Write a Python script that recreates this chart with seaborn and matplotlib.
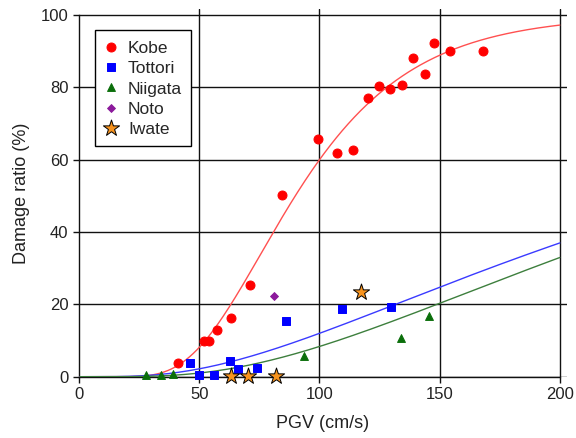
import math
import numpy as np
import pandas as pd
import matplotlib
matplotlib.use("Agg")
import matplotlib.pyplot as plt
import seaborn as sns

# ---- data ----
kobe_pgv = [41, 51.8, 54.2, 57.4, 63.2, 71.1, 84.4, 99.3, 107.2, 113.9, 120.3, 124.7,
            129.3, 134.3, 138.9, 143.8, 147.8, 154.4, 167.9]
kobe_dr = [3.8, 10, 10, 12.8, 16.2, 25.2, 50.3, 65.7, 61.7, 62.7, 77.1, 80.2,
           79.6, 80.6, 88.1, 83.7, 92.2, 90.1, 90.1]
tottori_pgv = [46, 50, 56.3, 63, 66, 74, 86.1, 109.3, 129.6]
tottori_dr = [3.8, 0.5, 0.5, 4.4, 2.2, 2.4, 15.3, 18.8, 19.2]
niigata_pgv = [27.8, 34.3, 38.9, 93.8, 133.8, 145.4]
niigata_dr = [0.5, 0.5, 0.7, 5.6, 10.6, 16.7]
noto_pgv = [81]
noto_dr = [22.4]
iwate_pgv = [63.2, 70.1, 82, 117.1]
iwate_dr = [0.1, 0.1, 0.3, 23.3]

# fitted lognormal fragility curves: (median PGV, log-std)
curve_names = ["Kobe", "Tottori", "Niigata"]
curve_median = [90.0, 263.0, 277.0]
curve_beta = [0.42, 0.822, 0.737]

x_ticks = [0, 50, 100, 150, 200]
y_ticks = [0, 20, 40, 60, 80, 100]

sns.set_style("white")
plt.rcParams['font.family'] = ['Liberation Sans', 'DejaVu Sans']

fig = plt.figure(figsize=(5.76, 4.38), dpi=100)
ax = fig.add_axes([79 / 576, 1 - 376.7 / 438, 488 / 576, 367.4 / 438])

# curves
xs = np.linspace(0.5, 200, 400)
curve_colors = ["#ff5050", "#3a3aff", "#3d7f3d"]
rows = []
for name, med, beta in zip(curve_names, curve_median, curve_beta):
    for xv in xs:
        z = (math.log(xv) - math.log(med)) / beta
        rows.append((name, xv, 100 * 0.5 * (1 + math.erf(z / math.sqrt(2)))))
curves = pd.DataFrame(rows, columns=["event", "pgv", "dr"])
for name, col in zip(curve_names, curve_colors):
    sns.lineplot(data=curves[curves.event == name], x="pgv", y="dr", ax=ax,
                 color=col, lw=1.0, zorder=3)

series = [
    ("Kobe", kobe_pgv, kobe_dr, "o", "#ff0000", 42, "#ff0000"),
    ("Tottori", tottori_pgv, tottori_dr, "s", "#0000ff", 30, "#0000ff"),
    ("Niigata", niigata_pgv, niigata_dr, "^", "#0a6e0a", 32, "#0a6e0a"),
    ("Noto", noto_pgv, noto_dr, "D", "#8c1a9c", 16, "#8c1a9c"),
    ("Iwate", iwate_pgv, iwate_dr, "*", "#f7931e", 150, "#000000"),
]
for name, xv, yv, mk, col, s, ec in series:
    sns.scatterplot(x=xv, y=yv, ax=ax, marker=mk, color=col, s=s, edgecolor=ec,
                    linewidth=0.7, label=name, zorder=4, clip_on=False)

ax.set_xlim(0, 203)
ax.set_ylim(0, 101.5)
ax.set_xticks(x_ticks)
ax.set_yticks(y_ticks)
ax.grid(True, color="#111111", lw=1.0)
ax.set_axisbelow(True)
ax.xaxis.get_gridlines()[0].set_visible(False)
for side in ["top", "right"]:
    ax.spines[side].set_visible(False)
ax.spines["left"].set_bounds(0, 100)
ax.spines["bottom"].set_bounds(0, 200)
for side in ["left", "bottom"]:
    ax.spines[side].set_color("#111111")
    ax.spines[side].set_linewidth(1.0)
ax.tick_params(axis="both", direction="out", length=4.5, width=1.0, color="#111111",
               labelsize=12, labelcolor="#222222", pad=3, left=True, bottom=True)
ax.set_xlabel("PGV (cm/s)", fontsize=13, color="#222222", labelpad=9)
ax.set_ylabel("Damage ratio (%)", fontsize=13, color="#222222", labelpad=8)

leg = ax.legend(loc="upper left", bbox_to_anchor=(95 / 576, 1 - 30 / 438),
                bbox_transform=fig.transFigure, borderaxespad=0, fancybox=False,
                edgecolor="black", framealpha=1, fontsize=12.5, labelspacing=0.16,
                handleheight=1.15, handletextpad=0.6, borderpad=0.5,
                handlelength=0.8)
leg.get_frame().set_linewidth(1.0)
leg.set_zorder(10)

fig.savefig("out.png", dpi=100)
